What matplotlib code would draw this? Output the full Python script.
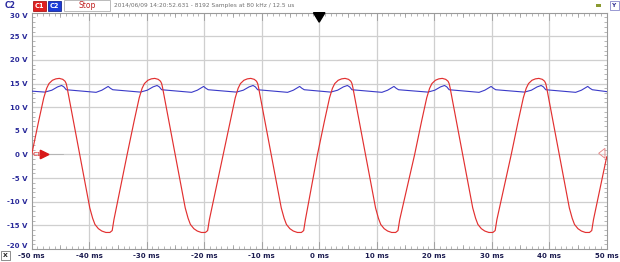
import numpy as np
import matplotlib
matplotlib.use("Agg")
import matplotlib.pyplot as plt
from matplotlib.patches import Rectangle, Polygon

# ---------------- data ----------------
# Rising 0 V crossings of the red trace C1 (ms)
c1_cycle_starts = [-50.0, -33.4, -16.7, -0.3, 16.6, 33.4]
c1_end_time = 50.0
c1_end_value = -0.5
# One cycle of C1, relative to its rising 0 V crossing (ms, V)
c1_shape_t = [0.0, 1.2, 2.1, 2.6, 3.0, 3.6, 4.2, 4.8, 5.4, 5.8, 6.0, 6.15,
              10.1, 10.6, 11.0, 11.6, 12.2, 12.9, 13.6, 14.0, 14.15, 14.3]
c1_shape_v = [0.0, 7.0, 12.0, 14.0, 15.0, 15.7, 16.0, 16.1, 15.9, 15.5, 15.0, 14.2,
              -11.3, -13.5, -14.8, -15.7, -16.2, -16.5, -16.5, -16.1, -15.0, -13.8]

# C2 (blue) ripple: one cycle relative to the same crossings (ms, V)
c2_start_value = 13.4
c2_shape_t = [2.3, 3.5, 4.5, 5.2, 5.6, 6.0, 11.2, 12.2, 13.3, 13.7, 14.1]
c2_shape_v = [13.2, 13.6, 14.3, 14.6, 14.3, 13.7, 13.15, 13.6, 14.4, 14.0, 13.7]
c2_end_value = 13.3

x_ticks = [-50, -40, -30, -20, -10, 0, 10, 20, 30, 40, 50]
x_labels = ["-50 ms", "-40 ms", "-30 ms", "-20 ms", "-10 ms", "0 ms",
            "10 ms", "20 ms", "30 ms", "40 ms", "50 ms"]
y_ticks = [-20, -15, -10, -5, 0, 5, 10, 15, 20, 25, 30]
y_labels = ["-20 V", "-15 V", "-10 V", "-5 V", "0 V", "5 V", "10 V",
            "15 V", "20 V", "25 V", "30 V"]
header_text = "2014/06/09 14:20:52.631 - 8192 Samples at 80 kHz / 12.5 us"

# ---------------- build traces ----------------
c1_t, c1_v = [], []
for s in c1_cycle_starts:
    c1_t += [s + t for t in c1_shape_t]
    c1_v += list(c1_shape_v)
c1_t.append(c1_end_time)
c1_v.append(c1_end_value)

c2_t, c2_v = [-50.0], [c2_start_value]
for s in c1_cycle_starts:
    c2_t += [s + t for t in c2_shape_t]
    c2_v += list(c2_shape_v)
c2_t.append(50.0)
c2_v.append(c2_end_value)

# ---------------- figure ----------------
W, H = 620, 262
fig = plt.figure(figsize=(W / 100, H / 100), dpi=100)
fig.patch.set_facecolor("white")
ax = fig.add_axes([31.7 / W, 13 / H, 575 / W, 236.3 / H])
ax.set_xlim(-50, 50)
ax.set_ylim(-20, 30)

grid_c = "#cfcfcf"
for x in x_ticks[1:-1]:
    ax.axvline(x, color=grid_c, lw=0.9, zorder=0)
for y in y_ticks[1:-1]:
    ax.axhline(y, color=grid_c, lw=0.9, zorder=0)

ax.plot(c2_t, c2_v, color="#3a3ac8", lw=0.8, zorder=3)
ax.plot(c1_t, c1_v, color="#e23030", lw=0.85, zorder=4)

for sp in ax.spines.values():
    sp.set_color("#9a9a9a")
    sp.set_linewidth(0.8)

font = dict(family="DejaVu Sans", size=5.0, weight="bold")
ax.set_xticks(x_ticks)
ax.set_xticklabels(x_labels, color="#1c1c50", **font)
ax.set_yticks(y_ticks)
ax.set_yticklabels(y_labels, color="#2a2a9a", **font)
ax.tick_params(axis="both", which="major", length=0, pad=3)
ax.set_xticks(np.arange(-50, 51, 1), minor=True)
ax.set_yticks(np.arange(-20, 31, 1), minor=True)
ax.tick_params(axis="both", which="minor", direction="in", length=2,
               width=0.5, color="#9a9a9a", top=True, right=True)
ylabs = ax.get_yticklabels()
ylabs[0].set_va("bottom")
ylabs[-1].set_va("top")

# medium ticks at 5 ms / 10 ms (decorations)
xt = ax.get_xaxis_transform()
for x in range(-45, 50, 10):
    ax.plot([x, x], [0, 0.018], transform=xt, color="#9a9a9a", lw=0.5, clip_on=False)
    ax.plot([x, x], [1, 0.982], transform=xt, color="#9a9a9a", lw=0.5, clip_on=False)
for x in x_ticks:
    ax.plot([x, x], [0, 0.03], transform=xt, color="#9a9a9a", lw=0.6, clip_on=False)
    ax.plot([x, x], [1, 0.97], transform=xt, color="#9a9a9a", lw=0.6, clip_on=False)

# trigger marker at top
ax.add_patch(Polygon([[-1.0, 1.0], [1.0, 1.0], [0.0, 0.96]], closed=True,
                     transform=xt, color="black", zorder=6, clip_on=False))

# C1 zero marker on the left
ax.add_patch(Polygon([[-48.5, 0.9], [-48.5, -0.9], [-47.0, 0.0]], closed=True,
                     facecolor="#d81818", edgecolor="#d81818", zorder=6, clip_on=False))
ax.plot([-47.0, -44.5], [0, 0], color="#b0b0b0", lw=0.6, zorder=5)
ax.text(-49.8, 0, "C1", color="#e05050", fontsize=4.5, fontweight="bold",
        va="center", ha="left", zorder=6)
# right side marker (outline)
ax.add_patch(Polygon([[49.7, 1.3], [49.7, -0.8], [48.6, 0.25]], closed=True,
                     facecolor="none", edgecolor="#e58080", lw=0.6, zorder=6, clip_on=False))

# ---------------- header / decorations ----------------
def px(x, y):
    return x / W, 1 - y / H

fig.text(*px(5, 6), "C2", color="#2a2aa0", fontsize=5.5, fontweight="bold", va="center")
fig.patches.append(Rectangle(px(33, 11), 13 / W, 10 / H, transform=fig.transFigure,
                             facecolor="#e02020", edgecolor="#a00000", lw=0.5))
fig.text(*px(39.5, 6), "C1", color="white", fontsize=4.8, fontweight="bold",
         ha="center", va="center")
fig.patches.append(Rectangle(px(48, 11), 13 / W, 10 / H, transform=fig.transFigure,
                             facecolor="#1c3cd8", edgecolor="#001080", lw=0.5))
fig.text(*px(54.5, 6), "C2", color="white", fontsize=4.8, fontweight="bold",
         ha="center", va="center")
fig.patches.append(Rectangle(px(64, 11), 46 / W, 10.5 / H, transform=fig.transFigure,
                             facecolor="white", edgecolor="#b0b0b0", lw=0.6))
fig.text(*px(87, 6), "Stop", color="#c02020", fontsize=5.5, ha="center", va="center")
fig.text(*px(114, 5.5), header_text, color="#707070", fontsize=4.2, va="center")

fig.patches.append(Rectangle(px(610, 10), 9 / W, 9 / H, transform=fig.transFigure,
                             facecolor="white", edgecolor="#7070c0", lw=0.5))
fig.text(*px(614.5, 5.5), "Y", color="#303090", fontsize=4.2, fontweight="bold",
         ha="center", va="center")
fig.patches.append(Rectangle(px(596, 7), 5 / W, 3 / H, transform=fig.transFigure,
                             facecolor="#8a9a30", edgecolor="none"))
fig.patches.append(Rectangle(px(1, 260), 9 / W, 9 / H, transform=fig.transFigure,
                             facecolor="white", edgecolor="#606060", lw=0.5))
fig.text(*px(5.5, 255.5), "X", color="#202020", fontsize=4.5, fontweight="bold",
         ha="center", va="center")

fig.savefig("out.png", dpi=100, facecolor="white")
